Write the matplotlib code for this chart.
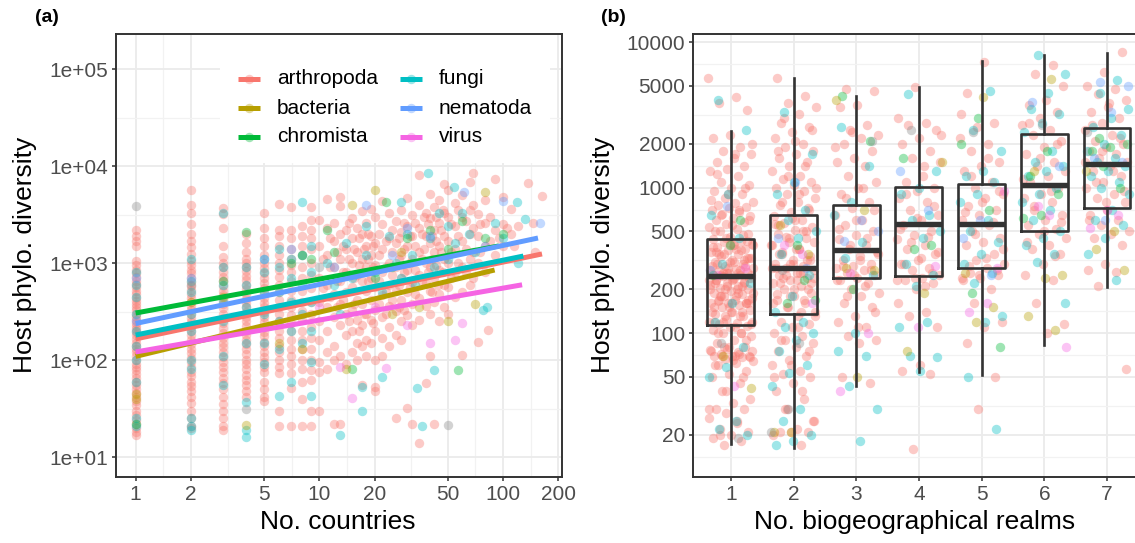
import matplotlib
matplotlib.use("Agg")
import matplotlib.pyplot as plt
import numpy as np
from matplotlib.patches import Rectangle
from matplotlib.ticker import FixedLocator, NullFormatter, FixedFormatter

plt.rcParams['font.family'] = ['Liberation Sans', 'DejaVu Sans']

# ---------------- colours (ggplot hue palette) ----------------
groups = ["arthropoda", "bacteria", "chromista", "fungi", "nematoda", "virus"]
group_colors = ["#F8766D", "#B79F00", "#00BA38", "#00BFC4", "#619CFF", "#F564E3"]
grey_color = "#8A8A8A"

# ---------------- panel (a) data ----------------
# arthropoda, column values at integer country counts
arth_c1 = [2200, 1900, 1700, 1500, 1050, 950, 850, 780, 720, 660, 610, 560, 520, 480, 440, 410, 380, 350, 330, 300, 280, 260, 240, 225, 210, 195, 180, 165, 150, 140, 130, 120, 110, 100, 92, 85, 78, 72, 66, 60, 55, 50, 46, 42, 38, 34, 30, 27, 24, 22, 20, 18, 17]
arth_c2 = [5700, 4000, 3300, 2500, 2000, 1700, 1450, 1250, 1050, 950, 850, 780, 700, 640, 580, 530, 480, 440, 400, 360, 330, 300, 270, 245, 220, 200, 180, 160, 145, 130, 118, 105, 95, 85, 76, 68, 60, 54, 48, 42, 36, 30, 25, 21, 20]
arth_c3 = [3700, 3200, 2300, 1500, 1150, 1000, 900, 800, 720, 650, 580, 520, 470, 420, 380, 340, 300, 270, 240, 215, 190, 170, 150, 135, 120, 108, 96, 85, 75, 66, 58, 50, 42, 35, 30, 25, 21, 19]
arth_c4 = [2000, 1600, 1300, 1100, 1000, 900, 820, 740, 670, 600, 540, 480, 430, 390, 350, 310, 280, 250, 225, 200, 180, 160, 145, 130, 115, 100, 90, 80, 70, 62, 55, 48, 42]
arth_c5 = [3300, 2300, 1800, 1500, 1200, 1000, 880, 780, 700, 620, 550, 490, 440, 390, 350, 310, 275, 245, 220, 195, 175, 155, 138, 122, 108, 96, 85, 75, 60, 50, 42, 38]
arth_c6 = [4100, 2200, 1900, 1500, 1200, 1000, 850, 720, 600, 500, 420, 350, 300, 250, 200, 170, 140, 120, 100, 85, 74, 30, 21]
arth_c7 = [3800, 2200, 1800, 1400, 1100, 950, 800, 650, 520, 420, 350, 290, 240, 200, 160, 130, 110, 90, 74, 52, 21]
arth_c8 = [2400, 1900, 1500, 1200, 900, 700, 520, 400, 320, 260, 200, 160, 130, 100, 80, 60, 40, 21]
arth_c9 = [3800, 2800, 2200, 1800, 1400, 1000, 750, 550, 400, 300, 220, 170, 130, 100, 78, 62, 30, 21]
# arthropoda, scattered points (countries >= 10)
arth_sx = [10, 10, 10, 10, 10, 10, 10, 10, 10, 11, 11, 11, 11, 11, 11, 11, 11, 12, 12, 12, 12, 12, 12, 12, 12,
           13, 13, 13, 13, 13, 13, 13, 13, 13, 14, 14, 14, 14, 14, 14, 14, 15, 15, 15, 15, 15, 15, 15,
           16, 16, 16, 16, 16, 16, 16, 17, 17, 17, 17, 17, 17, 17, 17, 18, 18, 18, 18, 18, 18, 18,
           19, 19, 19, 19, 19, 19, 19, 20, 20, 20, 20, 20, 20, 20, 20, 20, 22, 22, 22, 22, 22, 22, 22, 22,
           24, 24, 24, 24, 24, 24, 24, 26, 26, 26, 26, 26, 26, 26, 28, 28, 28, 28, 28, 28, 28,
           30, 30, 30, 30, 30, 30, 30, 32, 32, 32, 32, 32, 32, 32, 35, 35, 35, 35, 35, 35, 35, 35,
           38, 38, 38, 38, 38, 38, 40, 40, 40, 40, 40, 40, 40, 42, 42, 42, 42, 42, 42,
           45, 45, 45, 45, 45, 45, 48, 48, 48, 48, 48, 48, 50, 50, 50, 50, 50, 50, 55, 55, 55, 55, 55,
           60, 60, 60, 60, 60, 60, 66, 66, 66, 66, 66, 69, 69, 69, 69, 69, 73, 73, 73, 73,
           80, 80, 80, 80, 83, 85, 85, 90, 90, 90, 100, 100, 100, 110, 110, 120, 137, 145, 162, 150]
arth_sy = [2800, 1500, 700, 400, 250, 160, 95, 75, 30, 4600, 2300, 1200, 600, 350, 200, 120, 80, 2600, 1700, 900, 480, 280, 140, 100, 22,
           4800, 3900, 2000, 1100, 650, 380, 230, 110, 22, 2200, 1400, 800, 500, 300, 180, 90, 2900, 1800, 1000, 560, 330, 200, 120,
           2300, 1300, 750, 420, 260, 150, 100, 3400, 2000, 1100, 650, 380, 230, 140, 55, 2600, 1500, 900, 520, 300, 160, 110,
           3600, 1900, 1200, 700, 420, 260, 150, 3000, 1600, 950, 560, 330, 200, 100, 53, 48, 4400, 2500, 1400, 800, 470, 280, 170, 110,
           3300, 1800, 1000, 600, 360, 220, 140, 2700, 1600, 900, 520, 320, 180, 25, 3500, 2100, 1200, 700, 420, 250, 160,
           4700, 2400, 1500, 850, 500, 290, 32, 3100, 1900, 1100, 640, 380, 230, 22, 8000, 4000, 2300, 1300, 760, 440, 260, 14,
           3300, 1900, 1000, 620, 360, 58, 5200, 2900, 1600, 900, 520, 300, 110, 3800, 2200, 1300, 700, 400, 22,
           4500, 2600, 1500, 850, 480, 250, 6500, 3300, 1900, 1100, 600, 350, 5600, 3000, 1700, 1000, 560, 300, 4200, 2400, 1400, 800, 450,
           5000, 3000, 1700, 900, 500, 112, 6900, 3500, 2000, 1100, 600, 8400, 4000, 2300, 1300, 700, 3200, 1900, 1000, 154,
           4500, 2600, 1500, 800, 204, 3000, 1700, 7300, 2200, 1200, 4800, 2500, 1500, 3600, 2000, 2400, 6650, 2580, 4900, 1300]
arth_sx2 = [10.5, 10.5, 11.5, 11.5, 11.5, 12.5, 12.5, 12.5, 13.5, 13.5, 13.5, 14.5, 14.5, 14.5, 15.5, 15.5, 15.5,
            16.5, 16.5, 16.5, 17.5, 17.5, 17.5, 18.5, 18.5, 18.5, 19.5, 19.5, 19.5, 21, 21, 21, 21, 23, 23, 23, 23,
            25, 25, 25, 25, 27, 27, 27, 27, 29, 29, 29, 29, 31, 31, 31, 33, 33, 33, 33, 36, 36, 36, 37, 37, 39, 39,
            41, 41, 41, 43, 43, 43, 44, 46, 46, 47, 47, 52, 52, 52, 57, 57, 57, 63, 63, 63, 75, 75, 95, 105, 115]
arth_sy2 = [1100, 550, 1800, 900, 450, 1300, 650, 350, 1500, 800, 420, 2600, 1100, 250, 1400, 700, 380,
            1800, 950, 200, 1400, 800, 300, 2000, 1100, 650, 1500, 900, 240, 2000, 1200, 650, 380, 1700, 900, 500, 300,
            2200, 1300, 750, 420, 1800, 1100, 600, 350, 2600, 1400, 800, 330, 1900, 1000, 560, 2600, 1500, 850, 480, 2000, 1100, 650, 3000, 1400, 2500, 800,
            1900, 1100, 500, 3000, 1700, 950, 600, 2200, 1300, 3500, 800, 2500, 1300, 700, 3500, 1900, 1000, 2700, 1400, 800, 2500, 1300, 1800, 2300, 1500]

fungi_ax = [1]*10 + [2]*10 + [3]*7 + [4]*7 + [5]*6 + [6]*6 + [7]*5 + [8]*5 + [9]*6 + \
           [11, 12, 13, 13, 14, 15, 17, 17, 18, 18, 20, 22, 24, 26, 28, 28, 30, 32, 33, 36, 39, 40, 42, 42, 45, 50, 50, 54, 55, 60, 65, 70, 78, 82, 90, 100, 119, 132, 120, 34, 22]
fungi_ay = [800, 600, 450, 300, 200, 140, 100, 60, 25, 21,
            1100, 650, 500, 300, 200, 100, 80, 25, 21, 19,
            3300, 900, 600, 400, 250, 110, 55,
            900, 600, 350, 150, 37, 19, 16,
            1100, 800, 500, 300, 150, 90,
            1400, 900, 500, 250, 130, 43,
            1100, 700, 400, 200, 60,
            4300, 1200, 600, 300, 150,
            1500, 800, 400, 200, 95, 43,
            1000, 600, 17, 300, 1600, 700, 53, 30, 2400, 1200, 800, 500, 1900, 1000, 4300, 700, 2000, 1200, 600, 21, 8400, 1800, 79, 900, 3300, 2400, 1100, 6100, 1600, 3300, 2000, 1300, 330, 354, 2600, 1800, 4280, 2830, 1000, 51, 67]

chrom_ax = [1, 4, 7, 8, 9, 11, 12, 15, 20, 23, 30, 40, 50, 57, 60, 80, 100, 25, 3]
chrom_ay = [22, 2100, 1000, 1200, 1100, 2200, 1300, 80, 700, 4280, 1800, 2200, 1400, 79, 2700, 1800, 2000, 900, 650]
nema_ax = [1, 1, 2, 5, 7, 18, 30, 40, 61, 80, 159, 100, 25, 12]
nema_ay = [700, 250, 700, 1100, 1400, 3960, 2300, 1900, 5440, 1500, 2580, 4400, 1200, 900]
bact_ax = [1, 1, 2, 3, 4, 6, 8, 15, 20, 25, 35, 50, 80, 70, 14, 28]
bact_ay = [45, 40, 400, 450, 21.5, 150, 130, 3960, 5650, 300, 350, 250, 5440, 380, 80, 1300]
virus_ax = [15, 23, 55, 40, 30, 10, 60, 20, 13]
virus_ay = [40.6, 83, 160, 150, 230, 350, 240, 350, 85]
grey_ax = [1, 4, 50, 10, 2]
grey_ay = [3880, 31, 21.5, 900, 600]

# fitted lines: start at 1 country, end at group maximum
fit_x0 = [1, 1, 1, 1, 1, 1]
fit_y0 = [165, 109, 305, 181, 238, 121]
fit_x1 = [163, 90, 95, 129, 155, 127]
fit_y1 = [1240, 847, 1500, 1180, 1810, 596]

# ---------------- panel (b) data ----------------
realms = [1, 2, 3, 4, 5, 6, 7]
box_q1 = [114, 135, 240, 247, 279, 501, 726]
box_med = [246, 279, 370, 558, 566, 1036, 1462]
box_q3 = [443, 650, 759, 1006, 1054, 2350, 2580]
box_lo = [17.3, 16.1, 43.5, 53.6, 51.3, 83.4, 206]
box_hi = [2440, 5720, 4285, 4910, 7400, 8170, 8390]

r1_red = [5700, 4200, 3800, 3400, 2300, 2200, 1900, 1800, 1700, 1600, 1500, 1400, 1350, 1300, 1200, 1100, 1050, 1000, 950, 900, 850, 800, 780, 760, 740, 720, 700, 680, 660, 640, 620, 600, 580, 560, 540, 520, 500, 480, 460, 440, 430, 420, 410, 400, 390, 380, 370, 360, 350, 340, 330, 320, 310, 300, 290, 280, 275, 270, 265, 260, 255, 250, 245, 240, 235, 230, 225, 220, 215, 210, 205, 200, 195, 190, 185, 180, 175, 170, 165, 160, 160, 160, 155, 150, 145, 140, 135, 130, 125, 120, 118, 115, 112, 110, 105, 100, 100, 95, 90, 85, 80, 78, 76, 74, 72, 70, 70, 70, 68, 66, 64, 62, 60, 55, 52, 50, 45, 40, 35, 33, 30, 30, 28, 26, 24, 22, 21, 20, 19, 18, 17,
          2000, 1700, 1250, 1000, 900, 820, 700, 650, 600, 550, 500, 470, 450, 400, 380, 350, 330, 310, 290, 270, 260, 250, 240, 230, 220, 210, 200, 190, 180, 170, 160, 150, 140, 130, 120, 110, 100, 90, 80, 75, 72, 70, 68, 65, 60, 50, 40, 30, 25, 20,
          430, 410, 390, 370, 350, 330, 310, 300, 290, 280, 270, 260, 250, 240, 230, 220, 210, 200, 190, 180, 170, 160, 150, 140, 130, 120, 115, 400, 360, 320, 260, 230, 200, 180, 160, 140, 120, 100, 80, 75, 70]
r1_cyan = [4000, 2500, 900, 650, 450, 300, 220, 160, 120, 80, 58, 50, 25, 22, 20]
r1_green = [400, 250, 600]
r1_olive = [70, 42]
r1_pink = [43, 250, 280]
r1_blue = [750, 270]
r1_grey = [19, 85]

r2_red = [5700, 4300, 3800, 3600, 3200, 2800, 2600, 2400, 2200, 2000, 1900, 1800, 1700, 1600, 1500, 1400, 1300, 1200, 1150, 1100, 1050, 1000, 950, 900, 850, 800, 760, 720, 680, 640, 600, 570, 540, 510, 480, 450, 420, 400, 380, 360, 340, 320, 300, 290, 280, 270, 260, 250, 240, 230, 220, 210, 200, 190, 180, 170, 160, 150, 140, 130, 120, 115, 110, 100, 95, 90, 85, 80, 75, 70, 65, 60, 55, 52, 50, 45, 40, 35, 30, 25, 22, 21, 21, 21, 20, 17,
          3000, 2500, 2100, 1800, 1400, 1200, 1000, 900, 800, 700, 620, 560, 500, 460, 420, 380, 350, 320, 300, 280, 260, 240, 220, 200, 185, 170, 150, 130, 110, 90, 75, 60, 50, 40, 30, 25,
          600, 550, 500, 450, 400, 380, 350, 320, 300, 280, 260, 250, 240, 230, 220, 200, 180, 160, 140]
r2_cyan = [3300, 1700, 1100, 900, 700, 600, 500, 450, 350, 250, 180, 140, 120, 110, 100, 90, 75, 60, 53, 43, 30, 25, 20, 18, 17]
r2_green = [230, 160, 170, 400]
r2_olive = [550, 350, 21, 21]
r2_pink = [350, 400, 160]
r2_blue = [1100, 450, 280]
r2_grey = [30, 21, 85, 270]

r3_red = [4800, 4600, 3700, 3600, 2700, 2500, 2300, 2200, 2000, 1800, 1600, 1500, 1400, 1200, 1100, 1000, 900, 800, 720, 650, 600, 550, 500, 470, 440, 400, 380, 360, 340, 320, 300, 290, 280, 270, 260, 250, 240, 230, 220, 200, 190, 180, 160, 150, 130, 120, 110, 95, 90, 85, 50, 45,
          2400, 1900, 1000, 850, 700, 600, 520, 450, 400, 350, 320, 290, 270, 250, 230, 210, 180, 140, 110]
r3_cyan = [2600, 1400, 800, 650, 420, 330, 250, 100, 75, 70, 43, 30, 18]
r3_green = [4300, 2100, 200]
r3_olive = [4000, 700, 280, 270, 50]
r3_pink = [40, 100, 260]
r3_blue = [500, 600, 430]
r3_grey = [2100]

r4_red = [4900, 3000, 2800, 2700, 2500, 2200, 2000, 1800, 1600, 1500, 1200, 1100, 1000, 950, 850, 800, 700, 650, 600, 550, 500, 470, 440, 400, 380, 350, 320, 300, 280, 270, 250, 240, 230, 220, 200, 160, 140, 130, 110, 60, 55, 52, 16,
          2300, 1400, 900, 750, 620, 520, 460, 420, 360, 330, 300, 260, 240, 230, 210]
r4_cyan = [4400, 1300, 1000, 900, 650, 600, 500, 450, 300, 250, 210, 110, 120, 70, 68, 55]
r4_green = [1600, 400, 380]
r4_olive = [1500, 190, 75]
r4_pink = [290, 110]
r4_blue = [1300, 700]
r4_grey = [2500]

r5_red = [7300, 4500, 2800, 2600, 2200, 2000, 1800, 1500, 1400, 1300, 1100, 1000, 900, 850, 750, 700, 650, 600, 550, 500, 450, 420, 400, 350, 320, 300, 280, 260, 250, 240, 230, 200, 160, 120, 110, 85, 50, 30,
          3200, 1600, 1200, 950, 800, 680, 580, 480, 380, 330, 290, 270, 250, 240]
r5_cyan = [4600, 2500, 1800, 1300, 1200, 1100, 900, 800, 600, 500, 420, 350, 300, 260, 220, 130, 120, 50, 22]
r5_green = [3000, 2000, 700, 190, 80]
r5_olive = [4200, 260, 150, 120]
r5_pink = [950, 160, 140, 280]
r5_blue = [600, 450, 250]
r5_grey = [2400]

r6_red = [7000, 6000, 5000, 4000, 3700, 3300, 3000, 2700, 2500, 2300, 2100, 1900, 1700, 1500, 1400, 1300, 1200, 1100, 1000, 900, 850, 800, 700, 650, 600, 550, 520, 480, 450, 400, 380, 350, 300, 250, 230, 160, 115, 100,
          2800, 2000, 1600, 1150, 950, 750, 580, 500, 420, 340]
r6_cyan = [8200, 6000, 4500, 3500, 3200, 2800, 2400, 1800, 1500, 1400, 1300, 1200, 1000, 900, 800, 700, 600, 500, 450, 400, 350, 310, 160]
r6_green = [1800, 1200, 900, 650, 620]
r6_olive = [5600, 1300, 250, 240, 130, 105]
r6_pink = [750, 80, 650]
r6_blue = [3900, 1400]
r6_grey = [2700]

r7_red = [8500, 6200, 5000, 4800, 4400, 4000, 3600, 3300, 3000, 2800, 2500, 2300, 2100, 2000, 1900, 1800, 1700, 1600, 1500, 1400, 1300, 1200, 1100, 1000, 900, 850, 800, 700, 650, 600, 550, 500, 480, 450, 400, 300, 270, 265, 210, 57,
          3800, 2700, 2200, 1800, 1500, 1300, 1100, 950, 800, 600]
r7_cyan = [5500, 4500, 3500, 3000, 2600, 2300, 2000, 1800, 1600, 1500, 1400, 1300, 1200, 1100, 1000, 900, 700, 600, 550, 450, 350, 230]
r7_green = [2200, 2000, 1900, 1800, 1000, 1400]
r7_olive = [1300, 500, 380, 270]
r7_pink = [700, 530, 650]
r7_blue = [5300, 5000, 3300, 1600, 1500, 600]
r7_grey = [2400]

# ---------------- figure ----------------
W, H = 1135, 543
fig = plt.figure(figsize=(W / 100, H / 100), dpi=100)

def px_axes(l, t, r, b):
    return fig.add_axes([l / W, 1 - b / H, (r - l) / W, (b - t) / H])

axA = px_axes(116, 33.5, 562, 477)
axB = px_axes(693.4, 33.5, 1144.6, 477)

border = "#333333"
tickcol = "#4D4D4D"
gmaj = "#EBEBEB"
gmin = "#F2F2F2"
pt_s = 46
pt_alpha = 0.38

for ax in (axA, axB):
    ax.set_axisbelow(True)
    for sp in ax.spines.values():
        sp.set_color(border)
        sp.set_linewidth(1.4)
    ax.tick_params(which='major', length=3.2, width=1.1, color=border,
                   labelsize=15, labelcolor=tickcol, pad=2.5)
    ax.tick_params(which='minor', length=0)

# ---- panel (a)
axA.set_xscale('log')
axA.set_yscale('log')
axA.set_xlim(10 ** -0.107, 10 ** 2.321)
axA.set_ylim(10 ** 0.794, 10 ** 5.366)
xmaj = [1, 2, 5, 10, 20, 50, 100, 200]
xmin = [np.sqrt(a * b) for a, b in zip(xmaj[:-1], xmaj[1:])]
ymaj = [1e1, 1e2, 1e3, 1e4, 1e5]
ymin = [10 ** (k + 0.5) for k in range(0, 6)]
axA.xaxis.set_major_locator(FixedLocator(xmaj))
axA.xaxis.set_major_formatter(FixedFormatter([str(v) for v in xmaj]))
axA.xaxis.set_minor_locator(FixedLocator(xmin))
axA.xaxis.set_minor_formatter(NullFormatter())
axA.yaxis.set_major_locator(FixedLocator(ymaj))
axA.yaxis.set_major_formatter(FixedFormatter(["1e+01", "1e+02", "1e+03", "1e+04", "1e+05"]))
axA.yaxis.set_minor_locator(FixedLocator(ymin))
axA.yaxis.set_minor_formatter(NullFormatter())
axA.grid(True, which='major', color=gmaj, lw=1.3)
axA.grid(True, which='minor', color=gmin, lw=0.9)

def sc(ax, x, y, c, z=2):
    ax.scatter(x, y, s=pt_s, color=c, alpha=pt_alpha, linewidths=0, zorder=z)

arth_cols = [arth_c1, arth_c2, arth_c3, arth_c4, arth_c5, arth_c6, arth_c7, arth_c8, arth_c9]
for i, col in enumerate(arth_cols):
    sc(axA, [i + 1] * len(col), col, group_colors[0])
sc(axA, arth_sx, arth_sy, group_colors[0])
sc(axA, arth_sx2, arth_sy2, group_colors[0])
sc(axA, fungi_ax, fungi_ay, group_colors[3])
sc(axA, chrom_ax, chrom_ay, group_colors[2])
sc(axA, nema_ax, nema_ay, group_colors[4])
sc(axA, bact_ax, bact_ay, group_colors[1])
sc(axA, virus_ax, virus_ay, group_colors[5])
sc(axA, grey_ax, grey_ay, grey_color)

for i in range(len(groups)):
    axA.plot([fit_x0[i], fit_x1[i]], [fit_y0[i], fit_y1[i]], color=group_colors[i],
             lw=3.6, solid_capstyle='butt', zorder=4)

# legend background and entries
def ax_frac(X, Y):
    return ((X - 116) / 446, (477 - Y) / 443.5)

x0, y0 = ax_frac(220, 163)
x1, _ = ax_frac(550, 163)
axA.add_patch(Rectangle((x0, y0), x1 - x0, 1 - y0, transform=axA.transAxes,
                        facecolor='white', edgecolor='none', zorder=1))
leg_rows = [78.5, 108, 137]
for i, g in enumerate(groups):
    colk = i // 3
    row = i % 3
    kx0, kx1, tx = (238, 260, 277) if colk == 0 else (400, 422, 439)
    a0 = ax_frac(kx0, leg_rows[row])
    a1 = ax_frac(kx1, leg_rows[row])
    axA.scatter([(a0[0] + a1[0]) / 2], [a0[1]], s=pt_s, color=group_colors[i], alpha=pt_alpha,
                linewidths=0, transform=axA.transAxes, zorder=5)
    axA.plot([a0[0], a1[0]], [a0[1], a1[1]], color=group_colors[i], lw=3.6,
             solid_capstyle='butt', transform=axA.transAxes, zorder=6)
    t = ax_frac(tx, leg_rows[row])
    axA.text(t[0], t[1], g, transform=axA.transAxes, fontsize=15, color='black',
             va='center', ha='left', zorder=6)

# ---- panel (b)
axB.set_yscale('log')
axB.set_xlim(0.4, 7.6)
axB.set_ylim(10 ** 1.01, 10 ** 4.06)
bmaj = [20, 50, 100, 200, 500, 1000, 2000, 5000, 10000]
bmin = [np.sqrt(a * b) for a, b in zip([10] + bmaj, bmaj + [20000])]
axB.yaxis.set_major_locator(FixedLocator(bmaj))
axB.yaxis.set_major_formatter(FixedFormatter([str(v) for v in bmaj]))
axB.yaxis.set_minor_locator(FixedLocator(bmin))
axB.yaxis.set_minor_formatter(NullFormatter())
axB.grid(True, which='major', color=gmaj, lw=1.3)
axB.grid(True, which='minor', axis='y', color=gmin, lw=0.9)

realm_sets = [
    (r1_red, r1_cyan, r1_green, r1_olive, r1_pink, r1_blue, r1_grey),
    (r2_red, r2_cyan, r2_green, r2_olive, r2_pink, r2_blue, r2_grey),
    (r3_red, r3_cyan, r3_green, r3_olive, r3_pink, r3_blue, r3_grey),
    (r4_red, r4_cyan, r4_green, r4_olive, r4_pink, r4_blue, r4_grey),
    (r5_red, r5_cyan, r5_green, r5_olive, r5_pink, r5_blue, r5_grey),
    (r6_red, r6_cyan, r6_green, r6_olive, r6_pink, r6_blue, r6_grey),
    (r7_red, r7_cyan, r7_green, r7_olive, r7_pink, r7_blue, r7_grey),
]
set_colors = [group_colors[0], group_colors[3], group_colors[2], group_colors[1],
              group_colors[5], group_colors[4], grey_color]
phi = 0.6180339887
for ri, sets in enumerate(realm_sets):
    k = 0
    for vals, c in zip(sets, set_colors):
        n = len(vals)
        offs = (((np.arange(n) + k) * phi + 0.137 * ri) % 1.0 - 0.5) * 0.72
        k += n
        sc(axB, realms[ri] + offs, vals, c)

stats = []
for i in range(len(realms)):
    stats.append(dict(med=box_med[i], q1=box_q1[i], q3=box_q3[i],
                      whislo=box_lo[i], whishi=box_hi[i], fliers=[]))
axB.bxp(stats, positions=realms, widths=0.75, showfliers=False, showcaps=False,
        boxprops=dict(color=border, lw=1.9), whiskerprops=dict(color=border, lw=1.9),
        medianprops=dict(color=border, lw=3.9, solid_capstyle='butt'))
for art in axB.lines:
    art.set_zorder(4)
axB.set_xlim(0.4, 7.6)
axB.xaxis.set_major_locator(FixedLocator(realms))
axB.xaxis.set_major_formatter(FixedFormatter([str(r) for r in realms]))

# ---- titles and labels
fig.text(337.5 / W, 1 - 522 / H, "No. countries", fontsize=19, ha='center', va='center')
fig.text(915 / W, 1 - 522 / H, "No. biogeographical realms", fontsize=19, ha='center', va='center')
fig.text(25 / W, 1 - 255 / H, "Host phylo. diversity", fontsize=19, rotation=90, ha='center', va='center')
fig.text(603 / W, 1 - 255 / H, "Host phylo. diversity", fontsize=19, rotation=90, ha='center', va='center')
fig.text(47 / W, 1 - 17 / H, "(a)", fontsize=14, fontweight='bold', ha='center', va='center')
fig.text(613 / W, 1 - 17 / H, "(b)", fontsize=14, fontweight='bold', ha='center', va='center')

fig.savefig("out.png", dpi=100)
